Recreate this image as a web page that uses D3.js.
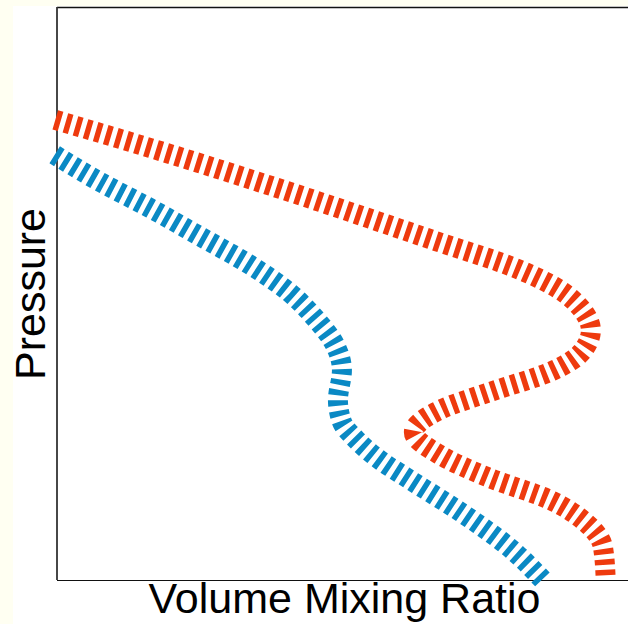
<!DOCTYPE html>
<html>
<head>
<meta charset="utf-8">
<script src="https://cdn.jsdelivr.net/npm/d3@7"></script>
<style>
  html, body { margin: 0; padding: 0; background: #fffff2; }
  svg { display: block; }
</style>
</head>
<body>
<svg id="chart" width="628" height="624"></svg>
<script>
// Data (arbitrary units: mixing ratio 0..100, pressure 0..100 top->bottom)
const redPressure = [19.7, 24.6, 32.3, 40.5, 45.9, 49.4, 52.4, 56.4, 60.2, 63.7, 67.2, 70.3, 74.2, 78.2, 82.2, 86.0, 89.9, 94.2, 100];
const redMixing   = [-0.3, 16.3, 40.8, 65.3, 81.1, 88.1, 91.6, 93.5, 91.9, 86.3, 75.8, 67.1, 62.5, 67.1, 75.8, 86.3, 92.5, 95.6, 96.1];
const bluePressure = [25.8, 30.5, 35.1, 40.0, 45.0, 49.9, 54.3, 59.0, 63.4, 68.6, 72.4, 75.6, 79.1, 82.5, 88.1, 94.4, 100];
const blueMixing   = [-0.4, 7.5, 16.3, 25.0, 33.8, 40.8, 45.2, 48.7, 49.9, 49.2, 49.9, 52.5, 56.6, 61.8, 70.6, 79.3, 85.1];
const xLabel = "Volume Mixing Ratio";
const yLabel = "Pressure";

(function () {
const svg = d3.select("#chart");
const mLeft = 57, mTop = 7, mRight = 628, mBottom = 580;

svg.append("rect").attr("x", 13).attr("y", 6).attr("width", 640).attr("height", 640).attr("fill", "#ffffff");

const x = d3.scaleLinear().domain([0, 100]).range([mLeft, mRight]);
const y = d3.scaleLinear().domain([0, 100]).range([mTop, mBottom]);

// frame
svg.append("line").attr("x1", mLeft).attr("x2", 660).attr("y1", mTop + 0.5).attr("y2", mTop + 0.5)
  .attr("stroke", "#111").attr("stroke-width", 1.5);
svg.append("line").attr("x1", mLeft).attr("x2", mLeft).attr("y1", mTop).attr("y2", mBottom)
  .attr("stroke", "#333").attr("stroke-width", 1.8);
svg.append("line").attr("x1", mLeft).attr("x2", 660).attr("y1", mBottom + 0.5).attr("y2", mBottom + 0.5)
  .attr("stroke", "#111").attr("stroke-width", 1.2);

const line = d3.line().x(d => x(d[0])).y(d => y(d[1])).curve(d3.curveMonotoneY);

const series = [
  { mix: redMixing, p: redPressure, color: "#ee3a0e" },
  { mix: blueMixing, p: bluePressure, color: "#0a89c4" }
];
series.forEach(s => {
  const pts = s.mix.map((m, i) => [m, s.p[i]]);
  svg.append("path").attr("d", line(pts))
    .attr("fill", "none").attr("stroke", s.color)
    .attr("stroke-width", 20).attr("stroke-dasharray", "5.5,5")
    .attr("stroke-linecap", "butt");
});

svg.append("text").attr("x", (mLeft + mRight) / 2 + 2).attr("y", 613)
  .attr("text-anchor", "middle").attr("font-family", "Liberation Sans, Arial, sans-serif")
  .attr("font-size", 43).attr("fill", "#000").text(xLabel);

svg.append("text").attr("transform", `translate(45,294) rotate(-90)`)
  .attr("text-anchor", "middle").attr("font-family", "Liberation Sans, Arial, sans-serif")
  .attr("font-size", 43).attr("fill", "#000").text(yLabel);
})();
</script>
</body>
</html>
